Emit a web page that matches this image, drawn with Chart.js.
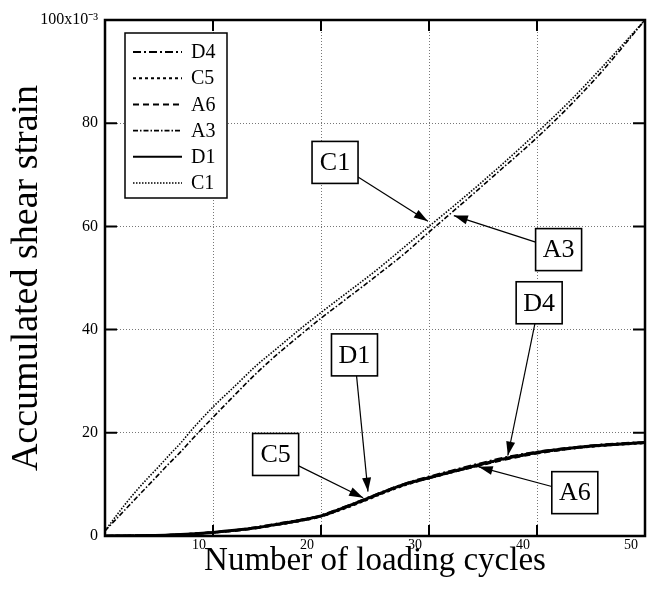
<!DOCTYPE html>
<html>
<head>
<meta charset="utf-8">
<script src="https://cdn.jsdelivr.net/npm/chart.js@4.4.1/dist/chart.umd.min.js"></script>
<style>
html,body{margin:0;padding:0;background:#fff;}
#wrap{width:653px;height:597px;position:relative;}
</style>
</head>
<body>
<div id="wrap"><canvas id="c" width="653" height="597"></canvas></div>
<script>
// ---- data ----
const seriesNames = ['D4','C5','A6','A3','D1','C1'];
const cyclesUpper = [0,1,2,3,4,5,6,7,8,10,12,14,16,18,20,22,25,28,30,33,36,40,43,46,50];
const strainC1 = [1,3.8,6.5,9,11.3,13.5,15.8,18,20.5,25,29,33,36.5,40,43.3,46.5,51.3,56.5,60,65.2,70.6,78.2,84.2,90.8,100];
const strainA3 = [1,3.2,5.4,7.6,9.8,12,14.2,16.3,18.6,23,27.3,31.5,35.3,38.8,42.2,45.4,50.2,55.2,58.9,64.3,69.8,77.2,83.3,90,100];
const cyclesLower = [0,2,4,6,8,10,12,14,16,18,20,22,24,26,28,30,32,35,37,40,43,46,50];
const strainD1 = [0,0.05,0.1,0.2,0.4,0.7,1.1,1.6,2.3,3.0,3.9,5.4,7.0,8.7,10.2,11.3,12.4,14.0,15.0,16.2,17.0,17.6,18.1];
const strainC5 = [0,0.05,0.1,0.2,0.4,0.7,1.1,1.6,2.2,2.9,3.8,5.2,6.8,8.5,10.0,11.2,12.3,13.9,14.9,16.1,16.9,17.5,18.0];
const strainD4 = [0,0.05,0.1,0.2,0.4,0.7,1.1,1.7,2.4,3.1,4.0,5.5,7.1,8.8,10.3,11.5,12.6,14.2,15.2,16.3,17.1,17.7,18.2];
const strainA6 = [0,0.05,0.1,0.2,0.4,0.7,1.0,1.5,2.2,2.9,3.8,5.3,6.9,8.6,10.1,11.2,12.3,13.8,14.8,16.0,16.9,17.6,18.1];
const xTickValues = [10,20,30,40,50];
const yTickLabels = ['0','20','40','60','80','100x10⁻³'];

// annotation callouts (data units)
const calloutLabels = ['C1','A3','D4','D1','C5','A6'];
const calloutBoxX = [21.3,42.0,40.2,23.1,15.8,43.5];
const calloutBoxY = [72.4,55.5,45.2,35.1,15.8,8.4];
const calloutTipX = [29.9,32.3,37.3,24.35,23.9,34.6];
const calloutTipY = [61.0,62.1,15.6,8.6,7.4,13.4];

const toPts = (xs, ys) => xs.map((x, i) => ({x, y: ys[i]}));
const SERIF = "'Liberation Serif', 'Times New Roman', serif";

const framePlugin = {
  id: 'frame',
  afterDraw(chart) {
    const {ctx, chartArea: a, scales} = chart;
    ctx.save();
    // inward ticks
    ctx.strokeStyle = '#000';
    ctx.lineWidth = 2;
    ctx.setLineDash([]);
    [10,20,30,40].forEach(v => {
      const px = scales.x.getPixelForValue(v);
      ctx.beginPath();
      ctx.moveTo(px, a.bottom); ctx.lineTo(px, a.bottom - 11);
      ctx.moveTo(px, a.top); ctx.lineTo(px, a.top + 11);
      ctx.stroke();
    });
    [20,40,60,80].forEach(v => {
      const py = scales.y.getPixelForValue(v);
      ctx.beginPath();
      ctx.moveTo(a.left, py); ctx.lineTo(a.left + 12, py);
      ctx.moveTo(a.right, py); ctx.lineTo(a.right - 12, py);
      ctx.stroke();
    });
    // frame
    ctx.lineWidth = 2.5;
    ctx.strokeRect(a.left, a.top, a.right - a.left, a.bottom - a.top);

    // legend
    const lx = 125, ly = 33, lw = 102, lh = 165;
    ctx.fillStyle = '#fff';
    ctx.fillRect(lx, ly, lw, lh);
    ctx.lineWidth = 1.5;
    ctx.strokeRect(lx, ly, lw, lh);
    ctx.font = '20px ' + SERIF;
    ctx.textBaseline = 'middle';
    ctx.textAlign = 'left';
    chart.data.datasets.forEach((ds, i) => {
      const y = ly + 19 + i * 26.2;
      ctx.save();
      ctx.strokeStyle = '#000';
      ctx.lineWidth = Math.min(ds.borderWidth, 2);
      ctx.setLineDash(ds.borderDash || []);
      ctx.beginPath();
      ctx.moveTo(lx + 8, y); ctx.lineTo(lx + 57, y);
      ctx.stroke();
      ctx.restore();
      ctx.fillStyle = '#000';
      ctx.fillText(ds.label, lx + 66, y + 1);
    });

    // callouts
    const bw = 46, bh = 42;
    calloutLabels.forEach((lab, i) => {
      const cx = scales.x.getPixelForValue(calloutBoxX[i]);
      const cy = scales.y.getPixelForValue(calloutBoxY[i]);
      const tx = scales.x.getPixelForValue(calloutTipX[i]);
      const ty = scales.y.getPixelForValue(calloutTipY[i]);
      const dx = tx - cx, dy = ty - cy;
      const t = Math.min((bw/2) / Math.abs(dx || 1e-6), (bh/2) / Math.abs(dy || 1e-6));
      const sx = cx + dx * t, sy = cy + dy * t;
      ctx.setLineDash([]);
      ctx.strokeStyle = '#000';
      ctx.lineWidth = 1.2;
      ctx.beginPath(); ctx.moveTo(sx, sy); ctx.lineTo(tx, ty); ctx.stroke();
      const ang = Math.atan2(ty - sy, tx - sx);
      const L = 14, W = 4.5;
      ctx.fillStyle = '#000';
      ctx.beginPath();
      ctx.moveTo(tx, ty);
      ctx.lineTo(tx - L*Math.cos(ang) + W*Math.sin(ang), ty - L*Math.sin(ang) - W*Math.cos(ang));
      ctx.lineTo(tx - L*Math.cos(ang) - W*Math.sin(ang), ty - L*Math.sin(ang) + W*Math.cos(ang));
      ctx.closePath(); ctx.fill();
      ctx.fillStyle = '#fff';
      ctx.fillRect(cx - bw/2, cy - bh/2, bw, bh);
      ctx.lineWidth = 1.6;
      ctx.strokeRect(cx - bw/2, cy - bh/2, bw, bh);
      ctx.fillStyle = '#000';
      ctx.font = '26px ' + SERIF;
      ctx.textAlign = 'center';
      ctx.textBaseline = 'middle';
      ctx.fillText(lab, cx, cy + 1);
    });
    ctx.restore();
  }
};

const mk = (label, xs, ys, dash, width) => ({
  label, data: toPts(xs, ys), borderColor: '#000', backgroundColor: '#000',
  borderDash: dash, borderWidth: width, pointRadius: 0, fill: false,
  cubicInterpolationMode: 'monotone'
});

new Chart(document.getElementById('c'), {
  type: 'line',
  data: {
    datasets: [
      mk(seriesNames[0], cyclesLower, strainD4, [8,3,2,3], 2.2),
      mk(seriesNames[1], cyclesLower, strainC5, [3,3], 2.2),
      mk(seriesNames[2], cyclesLower, strainA6, [6,4], 2.2),
      mk(seriesNames[3], cyclesUpper, strainA3, [5,2,1.5,2], 1.6),
      mk(seriesNames[4], cyclesLower, strainD1, [], 3),
      mk(seriesNames[5], cyclesUpper, strainC1, [1.5,1.5], 1.6)
    ]
  },
  options: {
    responsive: false,
    animation: false,
    layout: {padding: {top: 20, right: 8, left: 0, bottom: 0}},
    plugins: {legend: {display: false}, tooltip: {enabled: false}},
    scales: {
      x: {
        type: 'linear', min: 0, max: 50,
        afterFit(s) { s.height = 61; },
        afterBuildTicks(s) { s.ticks = [0].concat(xTickValues).map(v => ({value: v})); },
        ticks: {
          callback: v => (xTickValues.includes(v) ? String(v) : ''),
          font: {family: SERIF, size: 14}, color: '#000', padding: 1, labelOffset: -14,
          maxRotation: 0, autoSkip: false
        },
        grid: {drawTicks: false, lineWidth: 1,
          color: c => (c.tick && (c.tick.value === 0 || c.tick.value === 50)) ? 'rgba(0,0,0,0)' : '#777'},
        border: {display: false, dash: [1,2]},
        title: {display: true, text: 'Number of loading cycles', font: {family: SERIF, size: 33}, color: '#000', padding: {top: 0, bottom: 16}}
      },
      y: {
        type: 'linear', min: 0, max: 100,
        afterFit(s) { s.width = 105; },
        afterBuildTicks(s) { s.ticks = [0,20,40,60,80,100].map(v => ({value: v})); },
        ticks: {
          callback: (v) => yTickLabels[Math.round(v/20)],
          font: {family: SERIF, size: 16}, color: '#000', padding: 7, autoSkip: false
        },
        grid: {drawTicks: false, lineWidth: 1,
          color: c => (c.tick && (c.tick.value === 0 || c.tick.value === 100)) ? 'rgba(0,0,0,0)' : '#777'},
        border: {display: false, dash: [1,2]},
        title: {display: true, text: 'Accumulated shear strain', font: {family: SERIF, size: 38}, color: '#000', padding: {top: 4, bottom: 0}}
      }
    }
  },
  plugins: [framePlugin]
});
</script>
</body>
</html>
